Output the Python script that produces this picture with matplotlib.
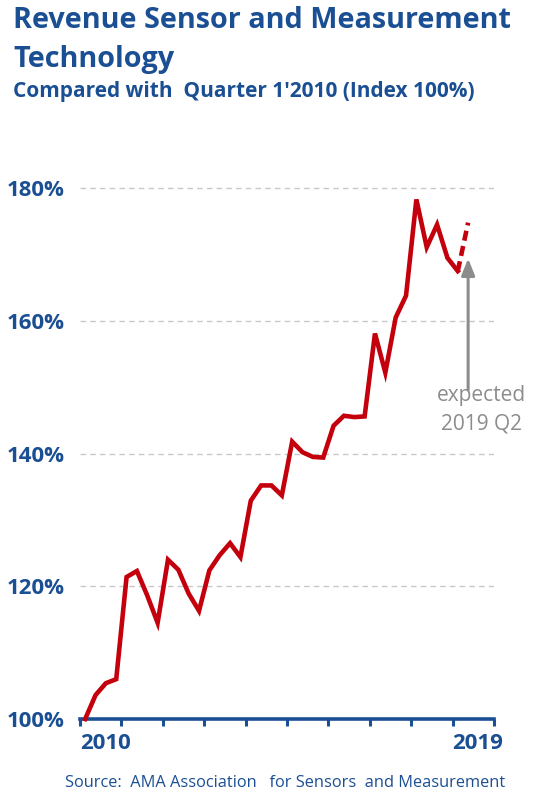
import matplotlib
matplotlib.use("Agg")
import matplotlib.pyplot as plt

# --- DATA (quarterly index, Q1 2010 = 100%) ---
START_YEAR = 2010
revenue_index = [
    100.0, 103.6, 105.4, 106.0,   # 2010
    121.4, 122.3, 118.6, 114.5,   # 2011
    124.0, 122.5, 118.9, 116.3,   # 2012
    122.4, 124.7, 126.5, 124.4,   # 2013
    132.9, 135.2, 135.2, 133.7,   # 2014
    141.8, 140.2, 139.5, 139.4,   # 2015
    144.2, 145.7, 145.5, 145.6,   # 2016
    158.1, 152.2, 160.5, 163.8,   # 2017
    178.3, 171.1, 174.5, 169.5,   # 2018
    167.5,                        # 2019 Q1
]
expected_q2_2019 = 174.8
year_ticks = list(range(2010, 2021))
year_labels = ["2010", "", "", "", "", "", "", "", "", "2019", ""]
y_ticks = [100, 120, 140, 160, 180]

BLUE = "#1b4f93"
RED = "#c4000c"
GREY = "#8c8c8c"

plt.rcParams["font.family"] = ["Open Sans", "DejaVu Sans"]

# quarter midpoints on a year axis
x = [START_YEAR + (i + 0.5) / 4 for i in range(len(revenue_index))]
x_next = START_YEAR + (len(revenue_index) + 0.5) / 4

fig = plt.figure(figsize=(5.33, 8), dpi=100)
ax = fig.add_axes([80 / 533, 81 / 800, 414 / 533, 564 / 800])

ax.plot(x, revenue_index, color=RED, lw=3.3, solid_joinstyle="miter",
        clip_on=False, zorder=3)
ax.plot([x[-1], x_next], [revenue_index[-1], expected_q2_2019], color=RED,
        lw=3.3, linestyle=(0, (2.2, 1.2)), clip_on=False, zorder=3)

ax.set_xlim(2010, 2020)
ax.set_ylim(100, 185)

for s in ["top", "right", "left"]:
    ax.spines[s].set_visible(False)
ax.spines["bottom"].set_color(BLUE)
ax.spines["bottom"].set_linewidth(2.6)

ax.set_xticks(year_ticks)
ax.set_xticklabels(year_labels, ha="left")
ax.tick_params(axis="x", direction="out", length=5, width=2.2, color=BLUE,
               labelcolor=BLUE, labelsize=16, pad=5)
for lab in ax.get_xticklabels():
    lab.set_fontweight("bold")

ax.set_yticks(y_ticks)
ax.set_yticklabels([f"{v}%" for v in y_ticks])
ax.tick_params(axis="y", length=0, labelcolor=BLUE, labelsize=16, pad=11)
for lab in ax.get_yticklabels():
    lab.set_fontweight("bold")

for v in y_ticks[1:]:
    ax.axhline(v, color="#c8c8c8", lw=1, linestyle=(0, (4, 3)), zorder=1)

# arrow to the expected value
ax.annotate("", xy=(x_next, 169.4), xytext=(x_next, 149.6),
            arrowprops=dict(arrowstyle="-|>,head_length=1.0,head_width=0.4",
                            color=GREY, lw=2.2, shrinkA=0, shrinkB=0))
ax.text(2019.70, 147.95, "expected", color=GREY, fontsize=15, ha="center",
        va="baseline")
ax.text(2019.70, 143.7, "2019 Q2", color=GREY, fontsize=15, ha="center",
        va="baseline")

fig.text(13 / 533, 1 - 28 / 800, "Revenue Sensor and Measurement",
         color=BLUE, fontsize=20.7, fontweight="bold", va="baseline")
fig.text(13 / 533, 1 - 67 / 800, "Technology",
         color=BLUE, fontsize=20.7, fontweight="bold", va="baseline")
fig.text(13 / 533, 1 - 97 / 800, "Compared with  Quarter 1'2010 (Index 100%)",
         color=BLUE, fontsize=15, fontweight="bold", va="baseline")
fig.text(65 / 533, 1 - 787 / 800,
         "Source:  AMA Association   for Sensors  and Measurement",
         color=BLUE, fontsize=11.8, va="baseline")

fig.savefig("out.png", dpi=100)
